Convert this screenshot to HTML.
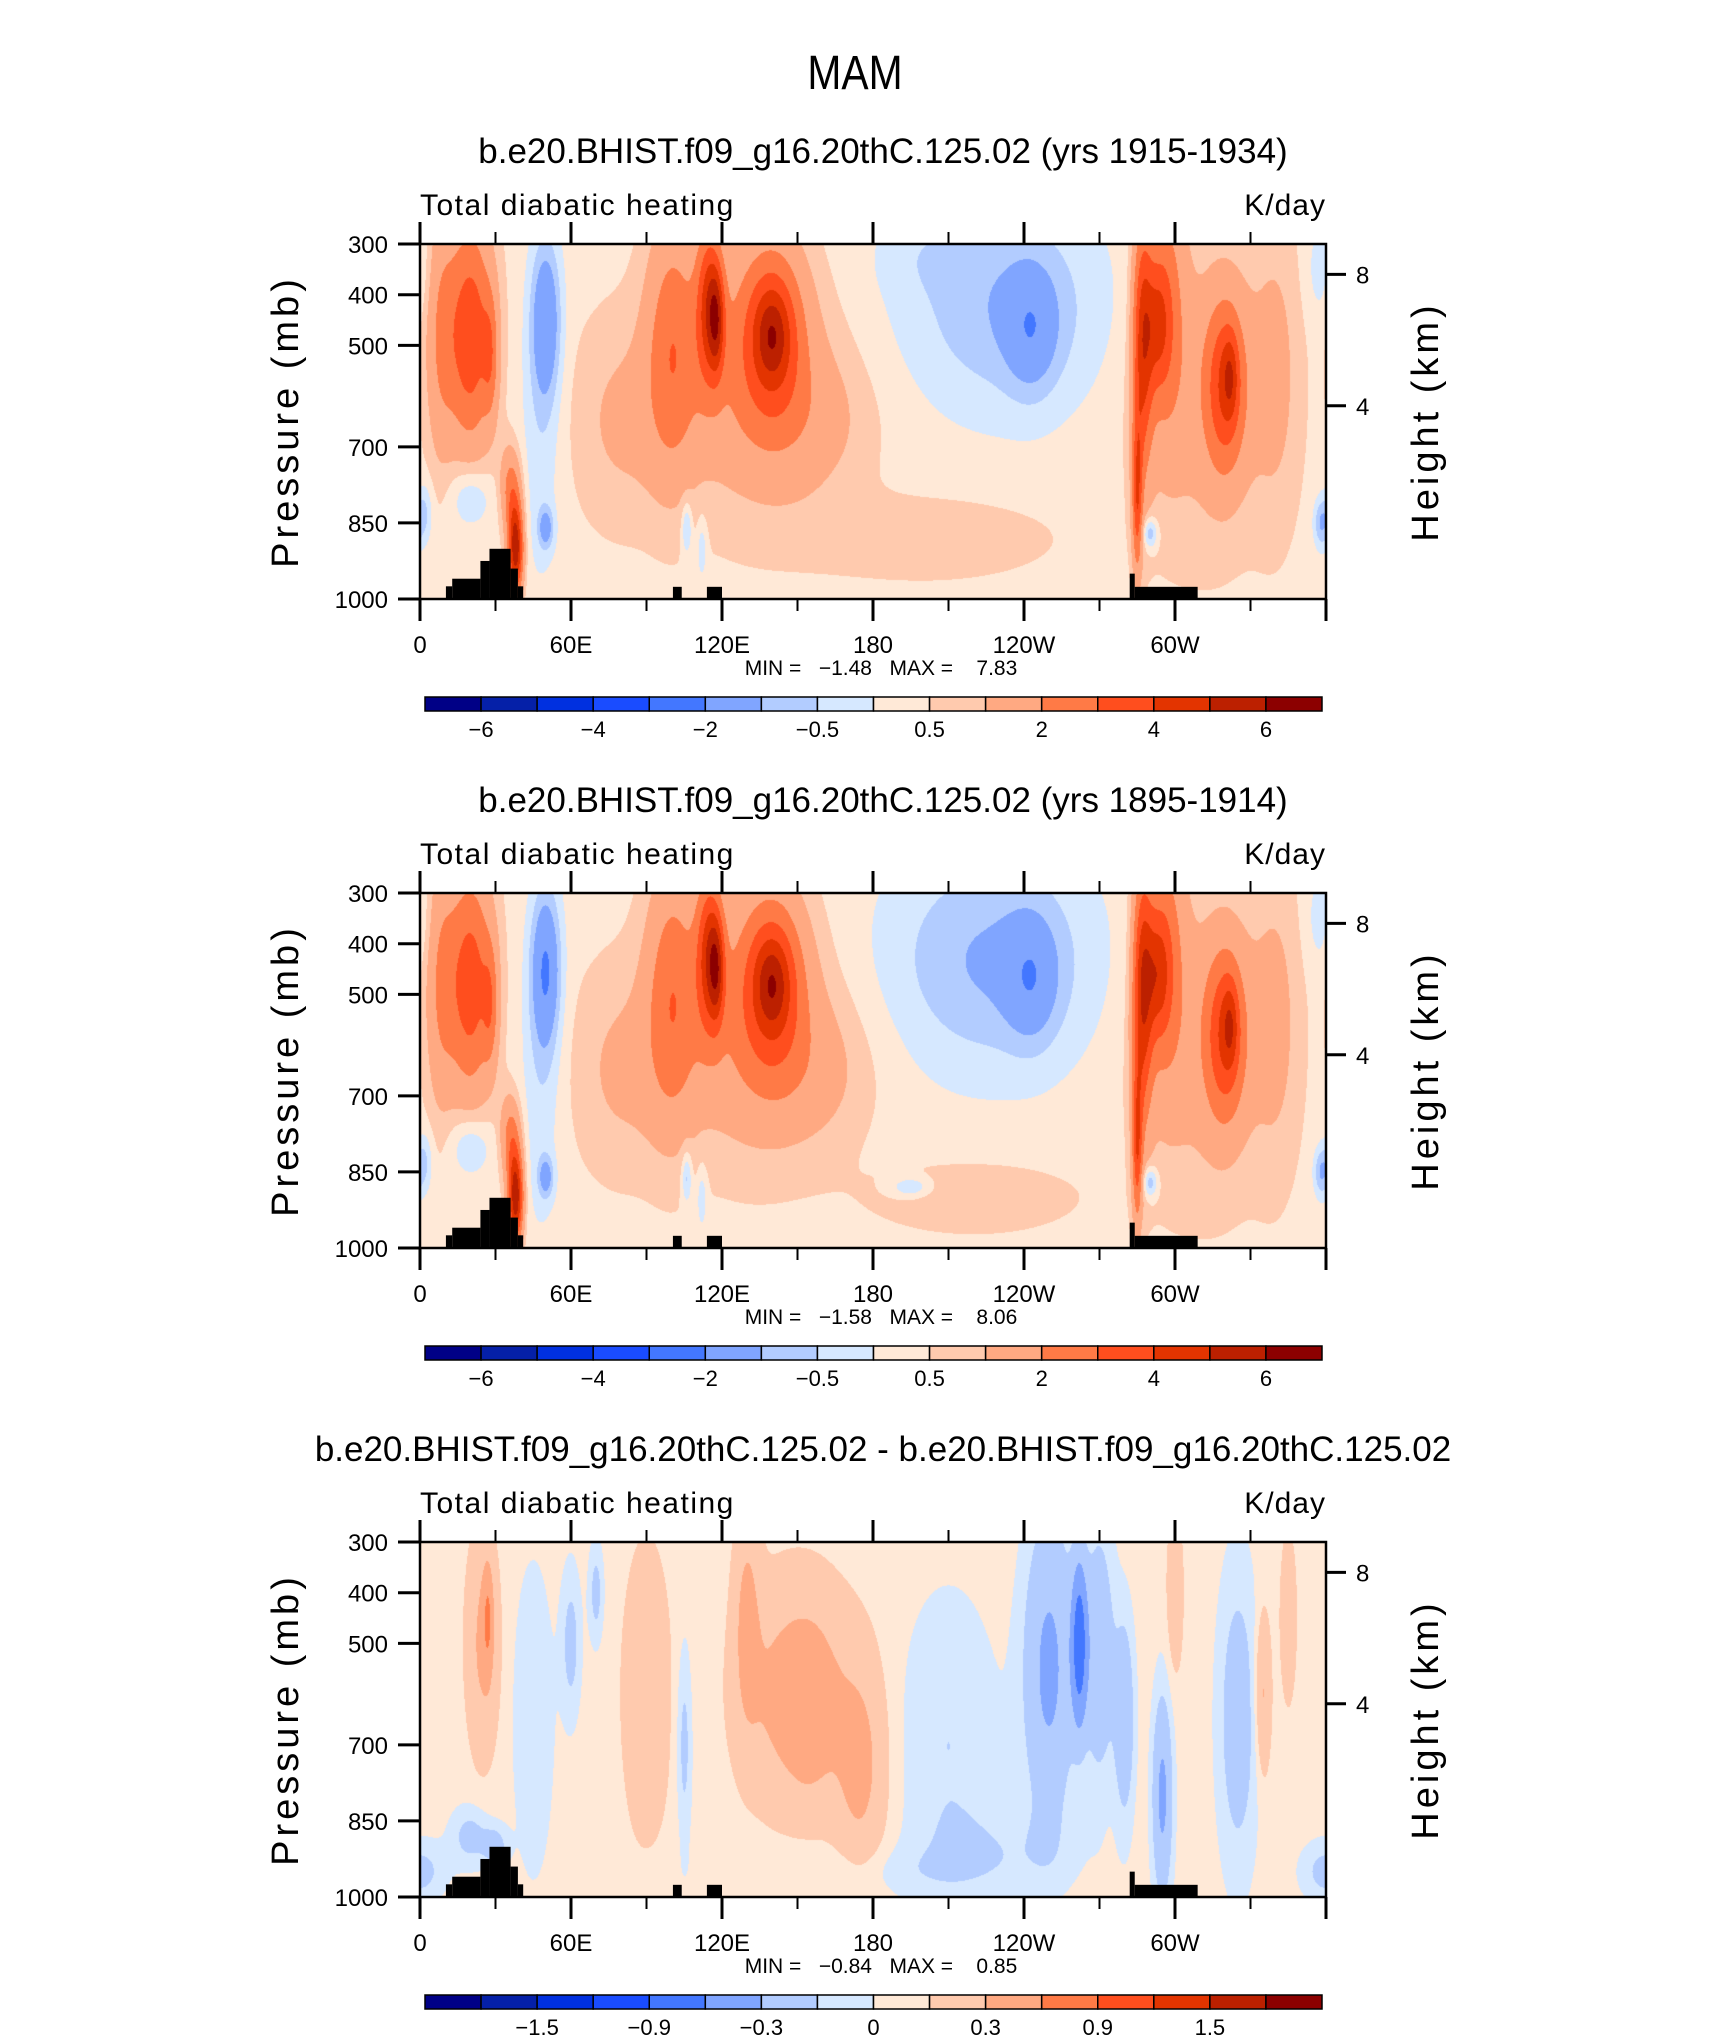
<!DOCTYPE html>
<html><head><meta charset="utf-8"><style>
body{margin:0;background:#fff;width:1710px;height:2038px;position:relative;overflow:hidden;font-family:"Liberation Sans",sans-serif}
.t{position:absolute;white-space:nowrap}
canvas{position:absolute}
svg{position:absolute;left:0;top:0}
</style></head><body>
<div class="t" style="left:0;width:1710px;top:46px;text-align:center;font-size:48px;font-weight:100;color:#000;transform:scaleX(0.85);">MAM</div>
<div id="root"></div>
<svg id="ov" width="1710" height="2038"></svg>
<script>
// ---- data ----
const panelTitles=["b.e20.BHIST.f09_g16.20thC.125.02 (yrs 1915-1934)","b.e20.BHIST.f09_g16.20thC.125.02 (yrs 1895-1914)","b.e20.BHIST.f09_g16.20thC.125.02 - b.e20.BHIST.f09_g16.20thC.125.02"];
const minVals=["-1.48","-1.58","-0.84"];
const maxVals=["7.83","8.06","0.85"];
const levelsAbs=[-6,-5,-4,-3,-2,-1,-0.5,0,0.5,1,2,3,4,5,6];
const levelsDiff=[-1.8,-1.5,-1.2,-0.9,-0.6,-0.3,-0.1,0,0.1,0.3,0.6,0.9,1.2,1.5,1.8];
const cbLabelsAbs=["−6","−4","−2","−0.5","0.5","2","4","6"];
const cbLabelsDiff=["−1.5","−0.9","−0.3","0","0.3","0.9","1.5"];
const lonTicks=[0,60,120,180,240,300];
const lonLabels=["0","60E","120E","180","120W","60W"];
const presTicks=[300,400,500,700,850,1000];
const heightTicks=[8,4];
const heightPres=[360,619];
const palette=['#000086','#0520A8','#0030E0','#1A4CFF','#4377FF','#80A5FF','#B2CCFF','#D6E8FF','#FFE9D7','#FFCAAE','#FFA982','#FF7A46','#FF4E1E','#E33400','#BC2000','#8C0000'];
// blobs: [lon, pressure, lonWidth, presWidth, amplitude]
const base1=0.3;
const blobs1=[[20,480,9,220,3.5],[28,520,3,120,1.5],[8,480,6,250,1.5],[20,800,8,60,-1.0],[38,900,3,90,5.5],[36,780,4,80,2],[50,450,6,160,-2.0],[50,860,3,40,-1.5],[48,700,8,300,-0.6],
[100,500,10,250,2.0],[115,420,5,150,3.5],[118,450,3,100,2.5],[140,470,12,160,3.0],[140,480,6,80,1.5],[130,550,30,250,1.5],[155,650,25,150,0.8],[106,860,2,50,-1.2],[112,900,2,60,-0.8],
[200,880,50,80,0.6],[80,650,20,200,0.8],[235,450,35,200,-0.6],[230,400,45,220,-0.7],[243,470,10,120,-1.2],[200,320,20,80,-0.3],
[287,500,4,250,3.5],[293,460,5,120,2.0],[285,800,2,150,3],[296,420,8,250,2.0],[320,580,8,170,3.0],[322,560,3,80,1.5],[310,600,25,300,1.0],[340,550,10,300,0.8],[290,870,3,30,-1.5],[358,850,3,50,-1.3],[358,350,6,100,-0.6],[2,830,3,60,-0.9]];
const base2=0.3;
const blobs2=[[20,480,9,220,3.3],[28,520,3,120,1.5],[8,480,6,250,1.5],[20,800,8,60,-1.0],[38,900,3,90,5.5],[36,780,4,80,2],[50,450,6,160,-2.2],[50,860,3,40,-1.5],[48,700,8,300,-0.6],
[100,500,10,250,2.0],[115,420,5,150,3.5],[118,450,3,100,2.5],[140,470,12,160,3.0],[140,480,6,80,1.5],[130,550,30,250,1.5],[155,650,25,150,0.8],[106,860,2,50,-1.2],[112,900,2,60,-0.8],
[220,900,40,70,0.6],[80,650,20,200,0.8],[230,450,38,210,-0.6],[225,420,45,230,-0.8],[243,470,10,120,-1.2],[195,880,8,20,-1.0],
[287,500,4,250,3.8],[293,460,5,120,2.2],[285,800,2,150,3],[296,420,8,250,2.0],[320,580,8,170,3.0],[322,560,3,80,1.5],[310,600,25,300,1.0],[340,550,10,300,0.8],[290,870,3,30,-1.5],[358,850,3,50,-1.3],[358,350,6,100,-0.6],[2,830,3,60,-0.9]];
const base3=0.05;
const blobs3=[[25,500,6,200,0.3],[27,450,2,100,0.4],[45,650,8,300,-0.15],[60,500,4,150,-0.2],[70,400,3,100,-0.2],[90,600,10,300,0.15],[105,700,3,200,-0.2],[130,450,5,200,0.3],[150,600,20,200,0.4],[155,650,8,150,0.15],[175,750,10,200,0.3],[210,700,20,300,-0.15],[230,900,30,80,-0.1],
[250,550,10,300,-0.4],[262,500,3,150,-0.8],[270,520,6,250,-0.3],[280,650,4,200,-0.3],[295,800,4,200,-0.4],[300,400,3,150,0.2],[325,650,8,300,-0.25],[335,600,3,150,0.3],[20,880,8,60,-0.2],[30,900,5,40,-0.2],[0,950,10,60,-0.2],[180,950,60,50,-0.08],[345,450,3,150,0.2]];
const masks=[[10.3,12.8,975],[12.8,24,960],[24,27.6,925],[27.6,36,901],[36,38.9,940],[38.9,41,975],[100.5,104,976],[114,120,976],[282,284,950],[284,309,976]];

const PL=420,PW=906,PH=355,panelTops=[244,893,1542];
const fields=[[base1,blobs1],[base2,blobs2],[base3,blobs3]];
const xOf=lon=>PL+lon/360*PW;
const yOf=(t,p)=>t+(p-300)/700*PH;
const SVGNS='http://www.w3.org/2000/svg';
const overlay=document.getElementById('ov');
function mk(tag,a,parent){const e=document.createElementNS(SVGNS,tag);for(const k in a)e.setAttribute(k,a[k]);(parent||overlay).appendChild(e);return e;}
function txt(x,y,s,size,anchor,extra){const e=mk('text',Object.assign({x:x,y:y,'font-size':size,'text-anchor':anchor||'start','font-family':'Liberation Sans, sans-serif',fill:'#000'},extra||{}));e.textContent=s;return e;}

function drawField(i){
  const pt=panelTops[i];const lv=i==2?levelsDiff:levelsAbs;const f=fields[i];
  const cv=document.createElement('canvas');cv.width=PW;cv.height=PH;cv.style.left=PL+'px';cv.style.top=pt+'px';
  
  
  document.getElementById('root').appendChild(cv);
  const ctx=cv.getContext('2d');const img=ctx.createImageData(PW,PH);
  const pal=palette.map(c=>[parseInt(c.substr(1,2),16),parseInt(c.substr(3,2),16),parseInt(c.substr(5,2),16)]);
  for(let y=0;y<PH;y++){const p=300+(y+0.5)/PH*700;
    for(let x=0;x<PW;x++){const lon=(x+0.5)/PW*360;let v=f[0];
      for(const b of f[1]){let d=lon-b[0];if(d>180)d-=360;if(d<-180)d+=360;v+=b[4]*Math.exp(-(d/b[2])*(d/b[2])-((p-b[1])/b[3])*((p-b[1])/b[3]));}
      let k=0;while(k<lv.length&&v>=lv[k])k++;
      const c=pal[k];const o=(y*PW+x)*4;img.data[o]=c[0];img.data[o+1]=c[1];img.data[o+2]=c[2];img.data[o+3]=255;}}
  ctx.putImageData(img,0,0);
}
function drawAxes(i){
  const pt=panelTops[i];
  const g=mk('g',{});
  
  
  masks.forEach(m=>{const r=mk('rect',{x:xOf(m[0]),y:yOf(pt,m[2]),width:xOf(m[1])-xOf(m[0]),height:yOf(pt,1000)-yOf(pt,m[2]),fill:'#000'},g);
    
    });
  mk('rect',{x:PL,y:pt,width:PW,height:PH,fill:'none',stroke:'#000','stroke-width':2.5},g);
  const tt=txt(883,pt-81,panelTitles[i],35,'middle');
  
  
  const st=txt(PL,pt-29,'Total diabatic heating',30,'start',{'letter-spacing':'1.5','font-weight':'300'});
  
  
  const ut=txt(xOf(360),pt-29,'K/day',30,'end',{'letter-spacing':'1'});
  
  
  for(let d=0;d<=360;d+=30){const mj=d%60==0;const len=mj?22:12;
    if(d<360){mk('line',{x1:xOf(d),y1:pt,x2:xOf(d),y2:pt-len,stroke:'#000','stroke-width':mj?3:2},g);}
    mk('line',{x1:xOf(d),y1:pt+PH,x2:xOf(d),y2:pt+PH+len,stroke:'#000','stroke-width':mj?3:2},g);}
  lonTicks.forEach((d,j)=>{const t=txt(xOf(d),pt+PH+54,lonLabels[j],24,'middle');
    
    });
  presTicks.forEach(p=>{mk('line',{x1:PL,y1:yOf(pt,p),x2:PL-22,y2:yOf(pt,p),stroke:'#000','stroke-width':3},g);
    const t=txt(PL-32,yOf(pt,p)+9,String(p),24,'end');
    
    });
  heightTicks.forEach((h,j)=>{const yy=yOf(pt,heightPres[j]);mk('line',{x1:PL+PW,y1:yy,x2:PL+PW+20,y2:yy,stroke:'#000','stroke-width':3},g);
    const t=txt(PL+PW+30,yy+9,String(h),24,'start');
    
    });
  const yt=txt(0,0,'Pressure (mb)',38,'middle',{transform:'translate(298,'+(pt+PH/2)+') rotate(-90)','letter-spacing':'4','font-weight':'300'});
  
  
  const ht=txt(0,0,'Height (km)',38,'middle',{transform:'translate(1438,'+(pt+PH/2)+') rotate(-90)','letter-spacing':'4','font-weight':'300'});
  
  
  const mm=txt(881,pt+PH+76,'MIN =\u00a0\u00a0\u00a0'+minVals[i].replace('-','−')+'\u00a0\u00a0\u00a0MAX =\u00a0\u00a0\u00a0\u00a0'+maxVals[i],21,'middle');
  
  
  const cbL=425,cbW=897,cbT=pt+PH+98,cbH=14,bw=cbW/16;
  palette.forEach((c,k)=>{const r=mk('rect',{x:cbL+k*bw,y:cbT,width:bw,height:cbH,fill:c,stroke:'#000','stroke-width':1.5},g);
    
    });
  const labs=i<2?cbLabelsAbs:cbLabelsDiff;const off=i<2?1:2;
  labs.forEach((s,j)=>{const t=txt(cbL+(off+2*j)*bw,cbT+40,s,22,'middle');
    
    });
}
for(let i=0;i<3;i++){
  try{drawField(i);}catch(e){console.log(e);}
  try{drawAxes(i);}catch(e){console.log(e);}
}
</script>
</body></html>
